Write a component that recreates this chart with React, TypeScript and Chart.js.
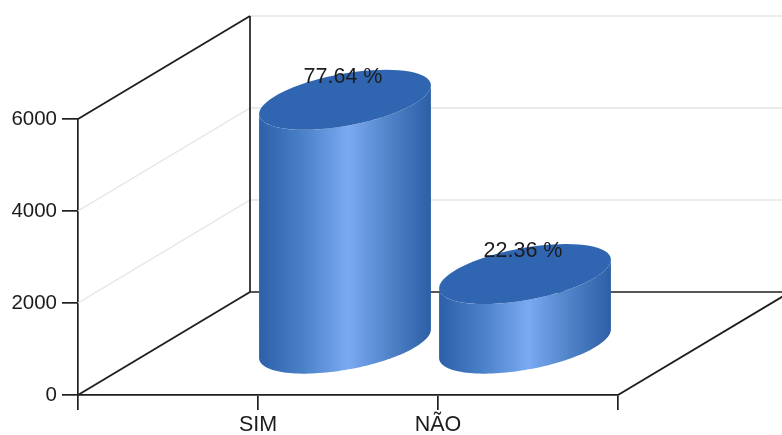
import React, { useEffect, useRef } from "react";
import { Chart, registerables } from "chart.js";

Chart.register(...registerables);

// The empty first and last categories give the axis its outer ticks.
const categories = ["", "SIM", "NÃO", ""];
const responses = [null, 5320, 1532, null];
const yTicks = [0, 2000, 4000, 6000];

const FONT = '"Liberation Sans", Arial, sans-serif';
const AXIS_COLOR = "#1f1f1f";
const GRID_COLOR = "#e4e4e4";

// Oblique projection of the box: how far the back wall sits from the front plane.
const DEPTH_X = 172;
const DEPTH_Y = -103;

// Cylinder cross-section, as two conjugate semi-axes of the projected circle.
const RADIUS_X = 75.5;
const RADIUS_SKEW_X = 41;
const RADIUS_SKEW_Y = -30;

const total = responses.reduce<number>((sum, v) => sum + (v ?? 0), 0);

function line(ctx: CanvasRenderingContext2D, x0: number, y0: number, x1: number, y1: number) {
  ctx.beginPath();
  ctx.moveTo(x0, y0);
  ctx.lineTo(x1, y1);
  ctx.stroke();
}

// Traces part of the projected circle around (cx, cy).
function traceArc(
  ctx: CanvasRenderingContext2D,
  cx: number,
  cy: number,
  from: number,
  to: number,
  begin: boolean,
) {
  const steps = 72;
  for (let i = 0; i <= steps; i++) {
    const t = from + ((to - from) * i) / steps;
    const px = cx + RADIUS_X * Math.cos(t) + RADIUS_SKEW_X * Math.sin(t);
    const py = cy + RADIUS_SKEW_Y * Math.sin(t);
    if (i === 0 && begin) ctx.moveTo(px, py);
    else ctx.lineTo(px, py);
  }
}

const box3d = {
  id: "box3d",
  beforeDatasetsDraw(chart: Chart) {
    const { ctx, scales } = chart;
    const x = scales.x;
    const y = scales.y;
    const left = x.left;
    const right = x.right;
    const canvasRight = chart.width;
    ctx.save();
    ctx.lineCap = "butt";

    // Light grid lines running over the side wall and the back wall.
    ctx.strokeStyle = GRID_COLOR;
    ctx.lineWidth = 1.4;
    for (const value of yTicks) {
      const py = y.getPixelForValue(value);
      if (value !== 0 && value !== yTicks[yTicks.length - 1]) {
        line(ctx, left, py, left + DEPTH_X, py + DEPTH_Y);
      }
      if (value !== 0) line(ctx, left + DEPTH_X, py + DEPTH_Y, canvasRight, py + DEPTH_Y);
    }

    // Dark outline of the box.
    const top = y.getPixelForValue(yTicks[yTicks.length - 1]);
    const zero = y.getPixelForValue(0);
    ctx.strokeStyle = AXIS_COLOR;
    ctx.lineWidth = 1.9;
    line(ctx, left, top, left + DEPTH_X, top + DEPTH_Y);
    line(ctx, left, zero, left + DEPTH_X, zero + DEPTH_Y);
    line(ctx, right, zero, right + DEPTH_X, zero + DEPTH_Y);
    ctx.lineWidth = 1.7;
    line(ctx, left + DEPTH_X, top + DEPTH_Y, left + DEPTH_X, zero + DEPTH_Y);
    line(ctx, left + DEPTH_X, zero + DEPTH_Y, canvasRight, zero + DEPTH_Y);
    ctx.restore();
  },
  // Each bar element is painted as a cylinder standing mid-way through the box.
  beforeDatasetDraw(chart: Chart, args: { index: number }) {
    const { ctx } = chart;
    const meta = chart.getDatasetMeta(args.index);
    ctx.save();
    meta.data.forEach((bar: any, i: number) => {
      const value = responses[i];
      if (value == null) return;
      const cx = bar.x + DEPTH_X / 2 + 1;
      const topY = bar.y + DEPTH_Y / 2 + 1;
      const baseY = bar.base + DEPTH_Y / 2 + 1;
      const edge = Math.atan2(RADIUS_SKEW_X, RADIUS_X);
      const halfWidth = Math.hypot(RADIUS_X, RADIUS_SKEW_X);

      const side = ctx.createLinearGradient(cx - halfWidth, 0, cx + halfWidth, 0);
      side.addColorStop(0, "#2c60a8");
      side.addColorStop(0.25, "#4a80c8");
      side.addColorStop(0.52, "#7aaaf2");
      side.addColorStop(0.78, "#4c7fc4");
      side.addColorStop(1, "#2c5fa6");
      ctx.fillStyle = side;
      ctx.beginPath();
      traceArc(ctx, cx, baseY, edge + Math.PI, edge + 2 * Math.PI, true);
      traceArc(ctx, cx, topY, edge + 2 * Math.PI, edge + Math.PI, false);
      ctx.closePath();
      ctx.fill();

      ctx.fillStyle = "#3066b1";
      ctx.beginPath();
      traceArc(ctx, cx, topY, 0, 2 * Math.PI, true);
      ctx.closePath();
      ctx.fill();
    });
    ctx.restore();
    return false;
  },
  afterDatasetsDraw(chart: Chart) {
    const { ctx } = chart;
    const meta = chart.getDatasetMeta(0);
    ctx.save();
    ctx.font = `21.5px ${FONT}`;
    ctx.fillStyle = "#1c1c1c";
    ctx.textAlign = "center";
    ctx.textBaseline = "middle";
    meta.data.forEach((bar: any, i: number) => {
      const value = responses[i];
      if (value == null) return;
      const label = `${((value / total) * 100).toFixed(2)} %`;
      ctx.fillText(label, bar.x + DEPTH_X / 2 - 1, bar.y + DEPTH_Y / 2 - 22);
    });
    ctx.restore();
  },
};

export default function App() {
  const canvasRef = useRef<HTMLCanvasElement>(null);

  useEffect(() => {
    const canvas = canvasRef.current;
    if (!canvas) return;
    const chart = new Chart(canvas, {
      type: "bar",
      data: {
        labels: categories,
        datasets: [{ label: "Respostas", data: responses, backgroundColor: "#3066b1" }],
      },
      options: {
        responsive: false,
        animation: false,
        layout: { padding: { top: 119, right: 164, left: 0, bottom: 0 } },
        plugins: { legend: { display: false }, tooltip: { enabled: false } },
        scales: {
          x: {
            type: "category",
            offset: false,
            afterFit: (scale: any) => {
              scale.height = 40;
            },
            border: { color: AXIS_COLOR, width: 1.7 },
            grid: {
              offset: false,
              drawOnChartArea: false,
              color: AXIS_COLOR,
              lineWidth: 1.7,
              tickLength: 15,
            },
            ticks: {
              autoSkip: false,
              maxRotation: 0,
              padding: 2,
              color: "#1c1c1c",
              font: { family: FONT, size: 21.5 },
            },
          },
          y: {
            min: 0,
            max: 6000,
            afterFit: (scale: any) => {
              scale.width = 78;
            },
            afterBuildTicks: (scale: any) => {
              scale.ticks = yTicks.map((value) => ({ value }));
            },
            border: { color: AXIS_COLOR, width: 1.7 },
            grid: {
              drawOnChartArea: false,
              color: AXIS_COLOR,
              lineWidth: 1.7,
              tickLength: 16,
            },
            ticks: {
              padding: 5,
              color: "#1c1c1c",
              font: { family: FONT, size: 20.5 },
              callback: (value: number | string) => String(value),
            },
          },
        },
      },
      plugins: [box3d],
    } as any);
    return () => chart.destroy();
  }, []);

  return (
    <div style={{ position: "absolute", left: 0, top: 0, width: 782, height: 435, background: "#ffffff" }}>
      <canvas ref={canvasRef} width={782} height={435} style={{ display: "block" }} />
    </div>
  );
}
